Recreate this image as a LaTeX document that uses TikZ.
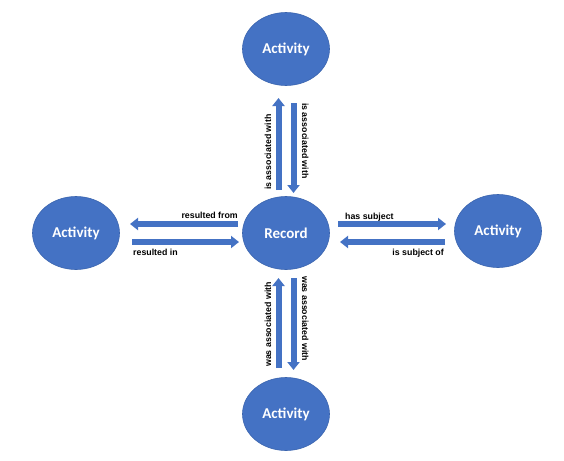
\documentclass[tikz,border=0pt]{standalone}
\usepackage{fontspec}
\setmainfont{Carlito}
\newfontfamily\lblfont{Liberation Sans}
\usepackage{xcolor}
\usepackage{tikz}
\usetikzlibrary{shapes,arrows.meta,positioning,calc}
\definecolor{actblue}{HTML}{4472C4}
\definecolor{actedge}{HTML}{3A64AE}

\begin{document}
\begin{tikzpicture}[
            x=1pt, y=-1pt,
            act/.style={ellipse, draw=actedge, line width=0.6pt, fill=actblue, text=white,
                minimum width=87pt, minimum height=73pt, inner sep=0pt, outer sep=0pt,
                font=\fontsize{15}{17}\selectfont\bfseries},
            arr/.style={draw=actblue, line width=6pt, -{Triangle[length=8pt,width=12pt]}},
            lbl/.style={inner sep=0pt, font=\lblfont\fontsize{8.8}{10}\selectfont\bfseries},
        ]
            \useasboundingbox (0,0) rectangle (564,460);
            \node[act] (top) at (286,49) {Activity};
            \node[act] (lft) at (76,233) {Activity};
            \node[act] (rec) at (286,233) {Record};
            \node[act] (rgt) at (498,231) {Activity};
            \node[act] (bot) at (286,414) {Activity};
            % record <-> left activity
            \draw[arr] ([shift={(-4.5,-9)}]rec.west) -- ([shift={(10.5,-9)}]lft.east);
            \draw[arr] ([shift={(12.5,9)}]lft.east) -- ([shift={(-3.5,9)}]rec.west);
            \node[lbl, anchor=base east] (rfrom) at (238,218) {resulted from};
            \node[lbl, anchor=base west] (rin) at (133,255) {resulted in};
            % record <-> right activity
            \draw[arr] ([shift={(8.5,-9)}]rec.east) -- ([shift={(-8.5,-7)}]rgt.west);
            \draw[arr] ([shift={(-9.5,11)}]rgt.west) -- ([shift={(10.5,9)}]rec.east);
            \node[lbl, anchor=base west] (hsub) at (345,219) {has subject};
            \node[lbl, anchor=base east] (isub) at (444,255) {is subject of};
            % record <-> top activity
            \draw[arr] ([shift={(-7.5,-6.5)}]rec.north) -- ([shift={(-7.5,12.5)}]top.south);
            \draw[arr] ([shift={(7.5,17.5)}]top.south) -- ([shift={(7.5,-3.5)}]rec.north);
            \node[lbl, rotate=90, anchor=base west] (isasl) at (271,190) {is associated with};
            \node[lbl, rotate=-90, anchor=base west] (isasr) at (302,103) {is associated with};
            % record <-> bottom activity
            \draw[arr] ([shift={(-7.5,-9.5)}]bot.north) -- ([shift={(-7.5,8.5)}]rec.south);
            \draw[arr] ([shift={(7.5,8.5)}]rec.south) -- ([shift={(7.5,-7.5)}]bot.north);
            \node[lbl, rotate=90, anchor=base west] (wasl) at (271,367) {was associated with};
            \node[lbl, rotate=-90, anchor=base west] (wasr) at (302,276) {was associated with};
        \end{tikzpicture}
\end{document}
